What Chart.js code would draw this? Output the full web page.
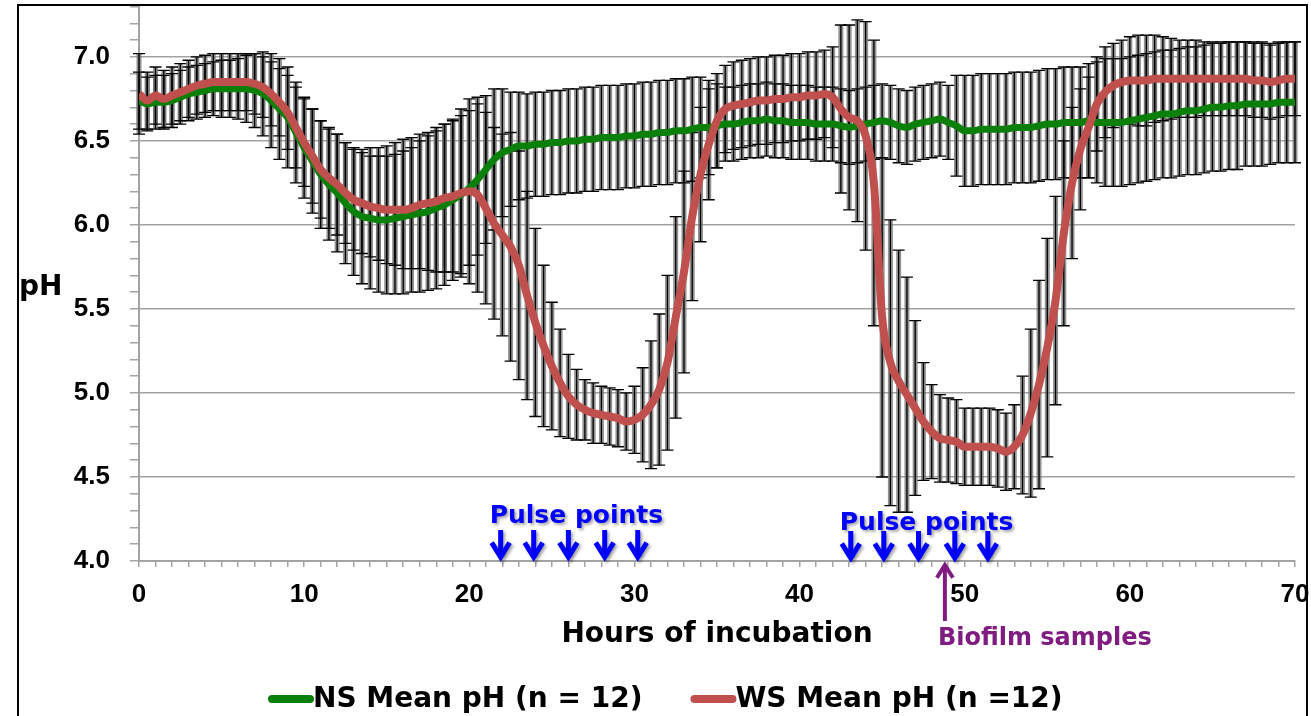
<!DOCTYPE html>
<html>
<head>
<meta charset="utf-8">
<title>pH during incubation</title>
<script src="https://cdn.jsdelivr.net/npm/chart.js@4.4.1/dist/chart.umd.min.js"></script>
<style>
  html, body { margin: 0; padding: 0; background: #fff; }
  #wrap { width: 1311px; height: 716px; position: relative; }
</style>
</head>
<body>
<div id="wrap"><canvas id="phChart"></canvas></div>
<script>
// sampling times (hours), one reading every half hour
const hours = [
  0, 0.5, 1, 1.5, 2, 2.5, 3, 3.5, 4, 4.5,
  5, 5.5, 6, 6.5, 7, 7.5, 8, 8.5, 9, 9.5,
  10, 10.5, 11, 11.5, 12, 12.5, 13, 13.5, 14, 14.5,
  15, 15.5, 16, 16.5, 17, 17.5, 18, 18.5, 19, 19.5,
  20, 20.5, 21, 21.5, 22, 22.5, 23, 23.5, 24, 24.5,
  25, 25.5, 26, 26.5, 27, 27.5, 28, 28.5, 29, 29.5,
  30, 30.5, 31, 31.5, 32, 32.5, 33, 33.5, 34, 34.5,
  35, 35.5, 36, 36.5, 37, 37.5, 38, 38.5, 39, 39.5,
  40, 40.5, 41, 41.5, 42, 42.5, 43, 43.5, 44, 44.5,
  45, 45.5, 46, 46.5, 47, 47.5, 48, 48.5, 49, 49.5,
  50, 50.5, 51, 51.5, 52, 52.5, 53, 53.5, 54, 54.5,
  55, 55.5, 56, 56.5, 57, 57.5, 58, 58.5, 59, 59.5,
  60, 60.5, 61, 61.5, 62, 62.5, 63, 63.5, 64, 64.5,
  65, 65.5, 66, 66.5, 67, 67.5, 68, 68.5, 69, 69.5,
  70
];

// NS mean pH and its error
const nsMean = [
  6.74, 6.72, 6.73, 6.73, 6.74, 6.76, 6.78, 6.79, 6.80, 6.81,
  6.81, 6.81, 6.81, 6.81, 6.80, 6.78, 6.74, 6.69, 6.64, 6.55,
  6.46, 6.38, 6.30, 6.24, 6.19, 6.13, 6.08, 6.05, 6.04, 6.03,
  6.03, 6.04, 6.05, 6.06, 6.07, 6.08, 6.10, 6.12, 6.15, 6.18,
  6.22, 6.27, 6.33, 6.39, 6.43, 6.45, 6.47, 6.47, 6.48, 6.48,
  6.49, 6.49, 6.50, 6.50, 6.51, 6.51, 6.52, 6.52, 6.52, 6.53,
  6.53, 6.54, 6.54, 6.55, 6.55, 6.56, 6.56, 6.57, 6.58, 6.58,
  6.59, 6.60, 6.60, 6.61, 6.62, 6.62, 6.63, 6.62, 6.62, 6.61,
  6.61, 6.61, 6.60, 6.60, 6.60, 6.59, 6.58, 6.59, 6.60, 6.61,
  6.62, 6.61, 6.59, 6.58, 6.60, 6.61, 6.62, 6.63, 6.61, 6.59,
  6.56, 6.56, 6.57, 6.57, 6.57, 6.57, 6.58, 6.58, 6.58, 6.59,
  6.60, 6.60, 6.61, 6.61, 6.61, 6.62, 6.61, 6.61, 6.61, 6.61,
  6.62, 6.63, 6.64, 6.65, 6.66, 6.66, 6.67, 6.68, 6.68, 6.69,
  6.70, 6.70, 6.71, 6.71, 6.72, 6.72, 6.72, 6.72, 6.73, 6.73,
  6.73
];
const nsErr = [
  0.17, 0.16, 0.16, 0.16, 0.16, 0.16, 0.16, 0.16, 0.16, 0.16,
  0.17, 0.17, 0.18, 0.20, 0.22, 0.25, 0.28, 0.30, 0.30, 0.30,
  0.30, 0.31, 0.32, 0.33, 0.35, 0.36, 0.38, 0.40, 0.42, 0.43,
  0.44, 0.45, 0.46, 0.46, 0.47, 0.47, 0.48, 0.48, 0.48, 0.47,
  0.46, 0.45, 0.44, 0.42, 0.38, 0.34, 0.32, 0.31, 0.31, 0.31,
  0.31, 0.31, 0.31, 0.31, 0.31, 0.31, 0.31, 0.31, 0.31, 0.31,
  0.31, 0.31, 0.31, 0.31, 0.31, 0.31, 0.31, 0.31, 0.30, 0.28,
  0.25, 0.22, 0.22, 0.22, 0.22, 0.22, 0.22, 0.22, 0.22, 0.22,
  0.22, 0.22, 0.22, 0.22, 0.22, 0.22, 0.22, 0.22, 0.22, 0.22,
  0.22, 0.22, 0.22, 0.22, 0.22, 0.22, 0.22, 0.22, 0.22, 0.30,
  0.33, 0.33, 0.33, 0.33, 0.33, 0.33, 0.33, 0.33, 0.33, 0.33,
  0.33, 0.33, 0.33, 0.33, 0.33, 0.34, 0.36, 0.38, 0.38, 0.38,
  0.38, 0.38, 0.38, 0.38, 0.38, 0.38, 0.38, 0.38, 0.38, 0.38,
  0.38, 0.38, 0.38, 0.38, 0.37, 0.37, 0.37, 0.36, 0.36, 0.36,
  0.36
];

// WS mean pH and its error
const wsMean = [
  6.78, 6.74, 6.77, 6.75, 6.77, 6.79, 6.81, 6.83, 6.84, 6.85,
  6.85, 6.85, 6.85, 6.85, 6.84, 6.82, 6.78, 6.73, 6.67, 6.58,
  6.49, 6.41, 6.33, 6.28, 6.24, 6.19, 6.15, 6.13, 6.11, 6.10,
  6.09, 6.09, 6.09, 6.10, 6.12, 6.13, 6.14, 6.16, 6.17, 6.19,
  6.20, 6.18, 6.10, 6.01, 5.94, 5.87, 5.76, 5.58, 5.42, 5.28,
  5.16, 5.06, 4.98, 4.93, 4.90, 4.88, 4.87, 4.86, 4.85, 4.83,
  4.84, 4.87, 4.93, 5.02, 5.18, 5.45, 5.72, 6.05, 6.30, 6.48,
  6.62, 6.69, 6.71, 6.72, 6.73, 6.74, 6.74, 6.75, 6.75, 6.76,
  6.76, 6.77, 6.77, 6.78, 6.76, 6.69, 6.64, 6.62, 6.53, 6.25,
  5.45, 5.18, 5.07, 4.99, 4.91, 4.83, 4.77, 4.73, 4.72, 4.71,
  4.68, 4.68, 4.68, 4.68, 4.67, 4.65, 4.68, 4.75, 4.88, 5.05,
  5.27, 5.55, 5.95, 6.25, 6.45, 6.58, 6.72, 6.79, 6.83, 6.85,
  6.86, 6.86, 6.86, 6.87, 6.87, 6.87, 6.87, 6.87, 6.87, 6.87,
  6.87, 6.87, 6.87, 6.87, 6.87, 6.86, 6.86, 6.85, 6.86, 6.87,
  6.87
];
const wsErr = [
  0.24, 0.17, 0.17, 0.17, 0.17, 0.17, 0.17, 0.17, 0.17, 0.17,
  0.17, 0.17, 0.17, 0.17, 0.18, 0.18, 0.19, 0.20, 0.22, 0.24,
  0.26, 0.28, 0.29, 0.30, 0.30, 0.30, 0.30, 0.30, 0.30, 0.31,
  0.32, 0.33, 0.35, 0.36, 0.38, 0.40, 0.42, 0.44, 0.45, 0.50,
  0.55, 0.58, 0.57, 0.57, 0.60, 0.68, 0.68, 0.62, 0.56, 0.48,
  0.38, 0.32, 0.25, 0.21, 0.18, 0.18, 0.17, 0.17, 0.17, 0.17,
  0.20, 0.28, 0.38, 0.45, 0.52, 0.60, 0.60, 0.50, 0.40, 0.33,
  0.28, 0.26, 0.26, 0.26, 0.26, 0.26, 0.26, 0.26, 0.26, 0.26,
  0.26, 0.26, 0.26, 0.26, 0.30, 0.50, 0.55, 0.60, 0.68, 0.85,
  0.95, 0.85, 0.78, 0.70, 0.52, 0.35, 0.28, 0.26, 0.25, 0.25,
  0.23, 0.23, 0.23, 0.23, 0.23, 0.23, 0.25, 0.35, 0.50, 0.62,
  0.65, 0.62, 0.55, 0.45, 0.36, 0.30, 0.28, 0.27, 0.25, 0.25,
  0.26, 0.27, 0.27, 0.26, 0.25, 0.24, 0.23, 0.23, 0.23, 0.22,
  0.22, 0.22, 0.22, 0.22, 0.22, 0.22, 0.22, 0.22, 0.22, 0.22,
  0.22
];

// annotations
const pulseHoursFirst = [21.9, 23.9, 26.0, 28.2, 30.2];
const pulseHoursSecond = [43.1, 45.1, 47.2, 49.4, 51.4];
const biofilmHour = 48.8;

const seriesLabels = ["NS Mean pH (n = 12)", "WS Mean pH (n =12)"];
const NS_GREEN = "#0a800a";
const WS_RED = "#c0504d";
const GRID_GREY = "#a3a3a3";
const TICK_FONT = { family: "'Liberation Sans', Arial, sans-serif", weight: "bold", size: 26 };
const WIDE_BOLD = "bold 28px 'DejaVu Sans', sans-serif";

const isMajor = v => Math.abs(v * 2 - Math.round(v * 2)) < 1e-6 && v <= 7.0001;

// vertical error bars under the mean lines
const errorBars = {
  id: "errorBars",
  beforeDatasetsDraw(chart) {
    const { ctx, scales: { x, y } } = chart;
    const series = [[nsMean, nsErr], [wsMean, wsErr]];
    const ends = (mean, err, i) => [
      y.getPixelForValue(mean[i] + err[i]),
      y.getPixelForValue(mean[i] - err[i])
    ];
    ctx.save();
    // soft grey body first, so the dense bars read as a shaded band
    ctx.strokeStyle = "rgba(110,110,110,0.75)";
    ctx.lineWidth = 5;
    series.forEach(([mean, err]) => {
      hours.forEach((h, i) => {
        const px = x.getPixelForValue(h);
        const [top, bot] = ends(mean, err, i);
        ctx.beginPath();
        ctx.moveTo(px, top);
        ctx.lineTo(px, bot);
        ctx.stroke();
      });
    });
    // black bar lines and caps
    ctx.strokeStyle = "#000";
    series.forEach(([mean, err]) => {
      hours.forEach((h, i) => {
        const px = x.getPixelForValue(h);
        const [top, bot] = ends(mean, err, i);
        ctx.lineWidth = 1.3;
        ctx.beginPath();
        ctx.moveTo(px, top);
        ctx.lineTo(px, bot);
        ctx.moveTo(px - 6, top);
        ctx.lineTo(px + 6, top);
        ctx.moveTo(px - 6, bot);
        ctx.lineTo(px + 6, bot);
        ctx.stroke();
      });
    });
    ctx.restore();
  }
};

function drawArrow(ctx, px, tipY, length, dir, width) {
  // dir = 1 points down, -1 points up
  ctx.beginPath();
  ctx.moveTo(px, tipY - dir * length);
  ctx.lineTo(px, tipY - dir * 2);
  ctx.stroke();
  ctx.beginPath();
  ctx.moveTo(px - width, tipY - dir * width * 1.6);
  ctx.lineTo(px, tipY);
  ctx.lineTo(px + width, tipY - dir * width * 1.6);
  ctx.stroke();
}

// frame, pH label, annotations and legend
const decorations = {
  id: "decorations",
  afterDraw(chart) {
    const { ctx, scales: { x } } = chart;
    ctx.save();

    ctx.strokeStyle = "#000";
    ctx.lineWidth = 2;
    ctx.strokeRect(18, 5, 1289, 800);

    ctx.fillStyle = "#000";
    ctx.font = WIDE_BOLD;
    ctx.textBaseline = "alphabetic";
    ctx.textAlign = "left";
    ctx.fillText("pH", 19, 295);

    // pulse points
    ctx.fillStyle = "#0000ff";
    ctx.strokeStyle = "#0000ff";
    ctx.font = "bold 25px 'DejaVu Sans', sans-serif";
    ctx.lineWidth = 5;
    ctx.lineJoin = "miter";
    [[pulseHoursFirst, 523, 557], [pulseHoursSecond, 530, 558]].forEach(([list, textY, tipY]) => {
      ctx.save();
      ctx.shadowColor = "rgba(0,0,0,0.35)";
      ctx.shadowBlur = 3;
      ctx.shadowOffsetX = 2;
      ctx.shadowOffsetY = 2;
      ctx.fillText("Pulse points", x.getPixelForValue(list[0]) - 11, textY);
      list.forEach(h => drawArrow(ctx, x.getPixelForValue(h), tipY, 27, 1, 9));
      ctx.restore();
    });

    // biofilm samples
    ctx.strokeStyle = "#801c80";
    ctx.fillStyle = "#801c80";
    ctx.lineWidth = 4;
    const bx = x.getPixelForValue(biofilmHour);
    drawArrow(ctx, bx, 565, 56, -1, 8);
    ctx.font = "bold 24px 'DejaVu Sans', sans-serif";
    ctx.fillText("Biofilm samples", bx - 7, 645);

    // legend
    let lx = 268;
    const ly = 699;
    ctx.font = WIDE_BOLD;
    ctx.textBaseline = "middle";
    chart.data.datasets.forEach(ds => {
      ctx.strokeStyle = ds.borderColor;
      ctx.lineWidth = 8;
      ctx.lineCap = "round";
      ctx.beginPath();
      ctx.moveTo(lx + 4, ly);
      ctx.lineTo(lx + 42, ly);
      ctx.stroke();
      ctx.fillStyle = "#000";
      ctx.fillText(ds.label, lx + 45, ly + 1);
      lx += 45 + ctx.measureText(ds.label).width + 48;
    });

    ctx.restore();
  }
};

new Chart(document.getElementById("phChart"), {
  type: "line",
  data: {
    datasets: [
      {
        label: seriesLabels[0],
        data: hours.map((h, i) => ({ x: h, y: nsMean[i] })),
        borderColor: NS_GREEN,
        borderWidth: 7,
        pointRadius: 0,
        cubicInterpolationMode: "monotone",
        order: 2
      },
      {
        label: seriesLabels[1],
        data: hours.map((h, i) => ({ x: h, y: wsMean[i] })),
        borderColor: WS_RED,
        borderWidth: 8,
        pointRadius: 0,
        cubicInterpolationMode: "monotone",
        order: 1
      }
    ]
  },
  options: {
    responsive: true,
    maintainAspectRatio: false,
    animation: false,
    events: [],
    layout: { padding: { left: 0, top: 6.5, right: 16, bottom: 60 } },
    plugins: { legend: { display: false }, tooltip: { enabled: false } },
    scales: {
      x: {
        type: "linear",
        min: 0,
        max: 70,
        border: { color: GRID_GREY, width: 2 },
        grid: { drawOnChartArea: false, color: GRID_GREY, tickLength: 6, lineWidth: 1.5 },
        ticks: {
          stepSize: 1,
          autoSkip: false,
          maxRotation: 0,
          padding: 12,
          color: "#000",
          font: TICK_FONT,
          callback: v => (Math.round(v) % 10 === 0 ? String(Math.round(v)) : "")
        },
        title: {
          display: true,
          text: "Hours of incubation",
          color: "#000",
          font: { family: "'DejaVu Sans', sans-serif", weight: "bold", size: 28 },
          padding: { top: 0, bottom: 4 }
        },
        afterFit(scale) {
          scale.height = 95;
          scale.paddingLeft = 0;
          scale.paddingRight = 0;
        }
      },
      y: {
        min: 4,
        max: 7.3,
        border: { color: GRID_GREY, width: 2 },
        grid: {
          color: c => (c.tick && isMajor(c.tick.value) ? GRID_GREY : "rgba(0,0,0,0)"),
          tickColor: GRID_GREY,
          lineWidth: 1.5,
          tickLength: 9
        },
        ticks: {
          stepSize: 0.1,
          autoSkip: false,
          padding: 20,
          color: "#000",
          font: TICK_FONT,
          callback: v => (isMajor(v) ? v.toFixed(1) : "")
        },
        afterFit(scale) {
          scale.width = 139;
          scale.paddingTop = 0;
          scale.paddingBottom = 0;
        }
      }
    }
  },
  plugins: [errorBars, decorations]
});
</script>
</body>
</html>
